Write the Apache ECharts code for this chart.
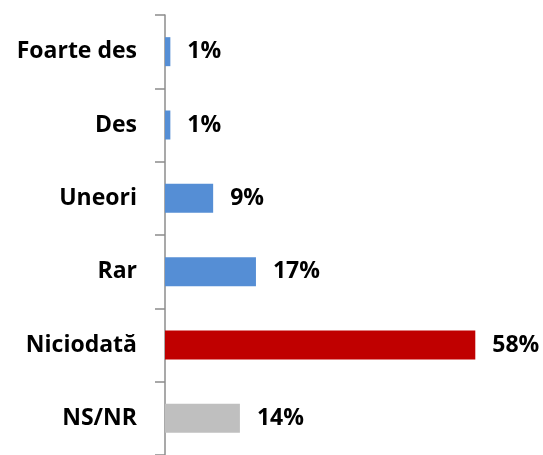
<!DOCTYPE html>
<html>
<head>
<meta charset="utf-8">
<script src="https://cdn.jsdelivr.net/npm/echarts@6/dist/echarts.min.js"></script>
<style>
  html, body { margin: 0; padding: 0; background: #fff; }
  #chart { width: 543px; height: 455px; }
</style>
</head>
<body>
<div id="chart"></div>
<script>
const categories = ['Foarte des', 'Des', 'Uneori', 'Rar', 'Niciodată', 'NS/NR']
const values = [1, 1, 9, 17, 58, 14]
const barColors = ['#558ed5', '#558ed5', '#558ed5', '#558ed5', '#c00000', '#bfbfbf']

const chart = echarts.init(document.getElementById('chart'))

const fontFamily = '"Open Sans", "Noto Sans", sans-serif'

chart.setOption({
  animation: false,
  grid: { left: 165, right: 57, top: 15, bottom: -6, containLabel: false },
  xAxis: {
    type: 'value',
    min: 0,
    max: 60,
    show: false,
  },
  yAxis: {
    type: 'category',
    inverse: true,
    data: categories,
    axisLine: { show: true, lineStyle: { color: '#8c8c8c', width: 1.5 } },
    axisTick: { show: true, length: 10, lineStyle: { color: '#8c8c8c', width: 1.5 } },
    axisLabel: {
      margin: 28,
      color: '#000',
      fontSize: 23,
      fontWeight: 'bold',
      fontFamily: fontFamily,
    },
  },
  series: [
    {
      type: 'bar',
      barWidth: 29,
      data: values.map((v, i) => ({
        value: v,
        itemStyle: { color: barColors[i] },
      })),
      label: {
        show: true,
        position: 'right',
        distance: 17,
        formatter: '{c}%',
        color: '#000',
        fontSize: 23,
        fontWeight: 'bold',
        fontFamily: fontFamily,
      },
    },
  ],
})
</script>
</body>
</html>
